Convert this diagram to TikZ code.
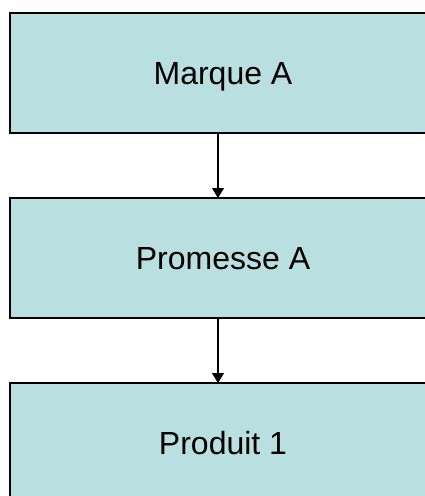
\documentclass[tikz,border=0pt]{standalone}
\usepackage{fontspec}
\setmainfont{Liberation Sans}
\usepackage{tikz}
\usetikzlibrary{positioning, arrows.meta}
\definecolor{boxfill}{RGB}{185, 223, 225}
\tikzset{
    stagebox/.style={rectangle, draw=black, fill=boxfill, line width=1.5pt, minimum width=426pt, minimum height=120pt, inner sep=0pt, outer sep=0pt, text depth=0pt, font=\fontsize{32}{38}\selectfont},
    link/.style={line width=1.3pt, -{Triangle[width=12pt,length=10pt]}}
}

\begin{document}
\begin{tikzpicture}[x=1pt, y=1pt]
    \useasboundingbox (0,0) rectangle (425,-496);
    \node[stagebox] (marque) at (223,-73) {Marque A};
    \node[stagebox, below=65pt of marque] (promesse) {Promesse A};
    \node[stagebox, below=65pt of promesse] (produit) {Produit 1};
    \draw[link] ([xshift=-5pt]marque.south) -- ([xshift=-5pt]promesse.north);
    \draw[link] ([xshift=-5pt]promesse.south) -- ([xshift=-5pt]produit.north);
\end{tikzpicture}
\end{document}
